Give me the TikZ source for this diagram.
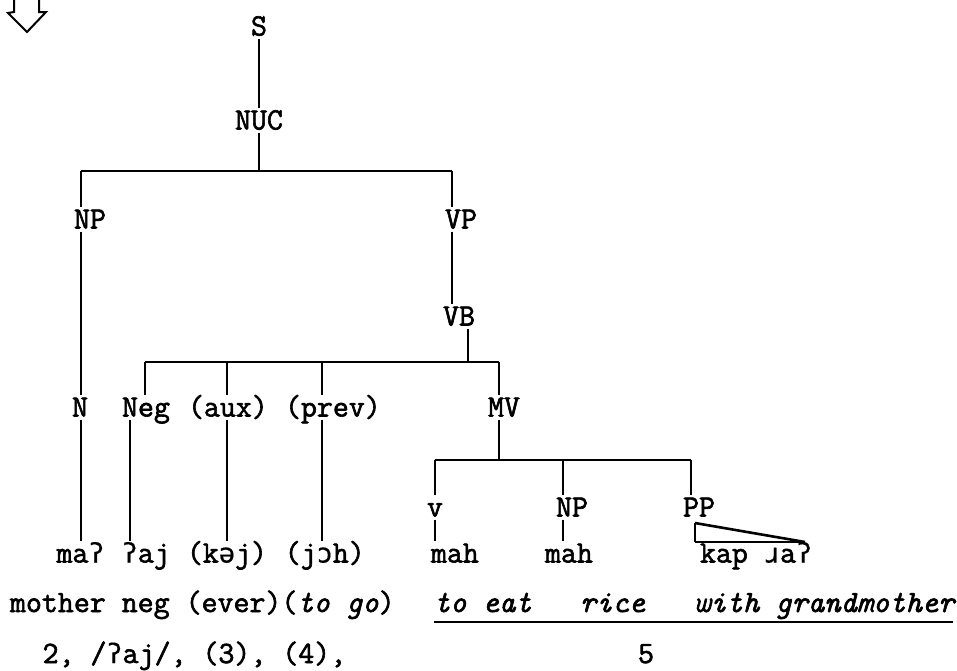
\documentclass[tikz,border=0pt]{standalone}
\usepackage{fontspec}
\newfontfamily\twr[RawFeature={embolden=2}]{Latin Modern Mono}
\newfontfamily\ipaf[Scale=0.87,RawFeature={embolden=0.5}]{DejaVu Sans Mono}
\newcommand\tws{\twr\fontsize{15.5pt}{18pt}\selectfont}
\newcommand\ip[1]{{\ipaf #1}}
\begin{document}
\begin{tikzpicture}[x=0.5pt,y=-0.5pt,
  every node/.style={font=\tws, inner sep=0pt, outer xsep=0pt, outer ysep=1.5pt,
                     text height=9.3pt, text depth=0pt},
  cat/.style={anchor=base},
  word/.style={anchor=base west},
  edge/.style={line width=0.75pt},
  bar/.style={line width=1.2pt},
  hollow/.style={line width=1pt, line join=miter},
  ]
\useasboundingbox (0,0) rectangle (957,670);

% hollow arrow in the corner
\draw[hollow] (14,0) -- (14,12) -- (8,13) -- (27,32) -- (46,12) -- (39,12) -- (39,0);

% category labels
\node[cat]  (S)    at (259,35.5)  {S};
\node[cat]  (NUC)  at (259,129.5) {NUC};
\node[cat]  (NP)   at (90,228.5)  {NP};
\node[cat]  (VP)   at (461,228.5) {VP};
\node[cat]  (VB)   at (459,325.5) {VB};
\node[cat]  (N)    at (80,416.5)  {N};
\node[word] (Neg)  at (122,416.5) {Neg};
\node[word] (aux)  at (188,416.5) {(aux)};
\node[word] (prev) at (285,416.5) {(prev)};
\node[cat]  (MV)   at (504,416.5) {MV};
\node[cat]  (v)    at (435,516.5) {v};
\node[cat]  (NP2)  at (572,516.5) {NP};
\node[cat]  (PP)   at (699,516.5) {PP};

% words
\node[word] (w1) at (56.5,562.5)  {ma\ip{ʔ}};
\node[word] (w2) at (121.7,562.5) {\ip{ʔ}aj};
\node[word] (w3) at (186.9,562.5) {(k\ip{ə}j)};
\node[word] (w4) at (284.7,562.5) {(j\ip{ɔ}h)};
\node[word] (w5) at (431,562.5)   {mah};
\node[word] (w6) at (545,562.5)   {mah};
\node[word] (w7) at (700,562.5)   {kap \ip{ɹ}a\ip{ʔ}};

% glosses
\node[word] (g1) at (10,612)  {mother neg (ever)(\textit{to go})};
\node[word] (g2) at (434,612) {\textit{to eat}};
\node[word] (g3) at (580,612) {\textit{rice}};
\node[word] (g4) at (694,612) {\textit{with grandmother}};

% numbering
\node[word] (r1) at (42.6,663) {2, /\ip{ʔ}aj/, (3), (4),};
\node[cat]  (r2) at (646,663)  {5};

% junctions
\coordinate (j1)  at (259,171);
\coordinate (b1l) at (81,171);
\coordinate (b1r) at (452,171);
\coordinate (j2)  at (468,362);
\coordinate (b2l) at (145,362);
\coordinate (b2r) at (499,362);
\coordinate (caux)  at (227,362);
\coordinate (cprev) at (322,362);
\coordinate (dneg)  at (130,450);
\coordinate (j3)  at (499,460);
\coordinate (b3l) at (435,460);
\coordinate (b3r) at (691,460);
\coordinate (cnp) at (563,460);

% top of the tree
\draw[edge] (S.south) -- (NUC.north);
\draw[edge] (NUC.south) -- (j1);
\draw[bar]  (b1l) -- (b1r);
\draw[edge] (b1l) -- (NP.north -| b1l);
\draw[edge] (b1r) -- (VP.north -| b1r);
\draw[edge] (NP.south -| b1l) -- (N.north -| b1l);
\draw[edge] (VP.south -| b1r) -- (VB.north -| b1r);

% verb phrase
\draw[edge] (VB.south -| j2) -- (j2);
\draw[bar]  (b2l) -- (b2r);
\draw[edge] (b2l) -- (Neg.north -| b2l);
\draw[edge] (caux) -- (aux.north -| caux);
\draw[edge] (cprev) -- (prev.north -| cprev);
\draw[edge] (b2r) -- (MV.north -| b2r);

% down to the words
\draw[edge] (N.south -| b1l) -- (w1.north -| b1l);
\draw[edge] (Neg.south -| dneg) -- (w2.north -| dneg);
\draw[edge] (aux.south -| caux) -- (w3.north -| caux);
\draw[edge] (prev.south -| cprev) -- (w4.north -| cprev);

% main verb
\draw[edge] (MV.south -| j3) -- (j3);
\draw[bar]  (b3l) -- (b3r);
\draw[edge] (b3l) -- (v.north -| b3l);
\draw[edge] (cnp) -- (NP2.north -| cnp);
\draw[edge] (b3r) -- (PP.north -| b3r);
\draw[edge] (v.south -| b3l) -- (w5.north -| b3l);
\draw[edge] (NP2.south -| cnp) -- (w6.north -| cnp);

% roof over the prepositional phrase
\coordinate (t1) at (695,523);
\coordinate (t2) at (695,542);
\coordinate (t3) at (805,542);
\draw[edge] (t1) -- (t2);
\draw[line width=1pt] (t2) -- (t3);
\draw[line width=1.3pt] (t1) -- (t3);

% underline of the verb-phrase gloss
\coordinate (ul1) at (434,622);
\coordinate (ul2) at (953,622);
\draw[line width=1pt] (ul1) -- (ul2);
\end{tikzpicture}
\end{document}
